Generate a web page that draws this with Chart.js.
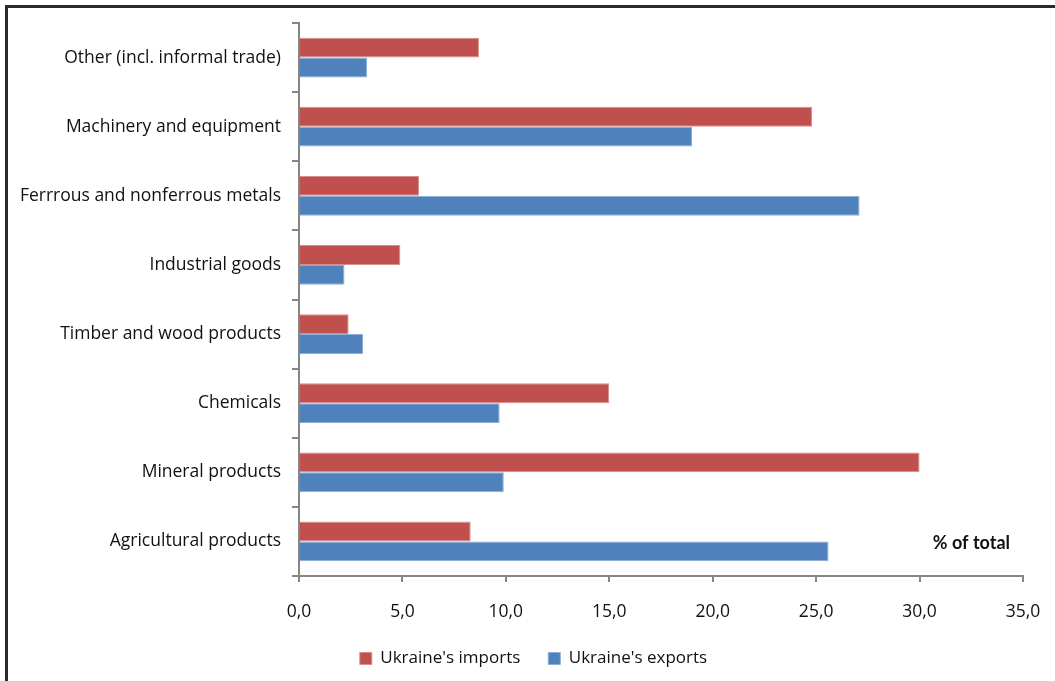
<!DOCTYPE html>
<html>
<head>
<meta charset="utf-8">
<script src="https://cdn.jsdelivr.net/npm/chart.js@4"></script>
<style>
  html, body { margin: 0; padding: 0; background: #fff; overflow: hidden; }
  #wrap { position: relative; width: 1055px; height: 681px; }
</style>
</head>
<body>
<div id="wrap"><canvas id="chart" width="1055" height="681"></canvas></div>
<script>
// Trade structure by product group, % of total
const categories = [
  'Other (incl. informal trade)',
  'Machinery and equipment',
  'Ferrrous and nonferrous metals',
  'Industrial goods',
  'Timber and wood products',
  'Chemicals',
  'Mineral products',
  'Agricultural products'
];
const importsLabel = "Ukraine's imports";
const exportsLabel = "Ukraine's exports";
const importsPct = [8.7, 24.8, 5.8, 4.9, 2.4, 15.0, 30.0, 8.3];
const exportsPct = [3.3, 19.0, 27.1, 2.2, 3.1, 9.7, 9.9, 25.6];
const unitNote = '% of total';

const FONT = '"Open Sans", Lato, sans-serif';
const AXIS_GREY = '#868686';
const LEGEND_SHIFT = 22;

// dark frame along the top and left edges, the unit note, and a nudge of the legend to the right
const framePlugin = {
  id: 'frame',
  afterLayout(chart) {
    if (chart.legend) {
      chart.legend.left += LEGEND_SHIFT;
      chart.legend.right += LEGEND_SHIFT;
    }
  },
  beforeDraw(chart) {
    const ctx = chart.ctx;
    ctx.save();
    ctx.fillStyle = '#fff';
    ctx.fillRect(0, 0, chart.width, chart.height);
    ctx.fillStyle = '#2a2a2a';
    ctx.fillRect(5, 5, chart.width, 3);
    ctx.fillRect(5, 5, 3, chart.height);
    ctx.restore();
  },
  afterDraw(chart) {
    const ctx = chart.ctx;
    const area = chart.chartArea;
    ctx.save();
    ctx.font = 'bold 18px Lato, sans-serif';
    ctx.fillStyle = '#111';
    ctx.textAlign = 'right';
    ctx.textBaseline = 'middle';
    ctx.fillText(unitNote, area.right - 13, area.bottom - 33);
    ctx.restore();
  }
};

new Chart(document.getElementById('chart'), {
  type: 'bar',
  data: {
    labels: categories,
    datasets: [
      {
        label: importsLabel,
        data: importsPct,
        backgroundColor: '#C0504D',
        borderColor: '#D68F8D',
        borderWidth: 1
      },
      {
        label: exportsLabel,
        data: exportsPct,
        backgroundColor: '#4F81BD',
        borderColor: '#8EADD6',
        borderWidth: 1
      }
    ]
  },
  options: {
    indexAxis: 'y',
    responsive: false,
    animation: false,
    devicePixelRatio: 1,
    categoryPercentage: 0.574,
    barPercentage: 1.0,
    layout: { padding: { left: 0, right: 32, top: 23, bottom: 4 } },
    scales: {
      x: {
        min: 0,
        max: 35,
        ticks: {
          stepSize: 5,
          color: '#111',
          font: { family: FONT, size: 17.5 },
          padding: 20,
          minRotation: 0,
          maxRotation: 0,
          callback: (v) => Number(v).toFixed(1).replace('.', ',')
        },
        grid: { drawOnChartArea: false, drawTicks: true, tickLength: 6, color: AXIS_GREY, lineWidth: 2 },
        border: { color: AXIS_GREY, width: 2 },
        afterFit(scale) {
          scale.height = 46;
          // the end labels fit inside the layout padding
          scale.paddingLeft = 0;
          scale.paddingRight = 0;
        }
      },
      y: {
        ticks: {
          color: '#111',
          font: { family: FONT, size: 17.5 },
          padding: 11
        },
        grid: { drawOnChartArea: false, drawTicks: true, tickLength: 7, color: AXIS_GREY, lineWidth: 2, offset: true },
        border: { color: AXIS_GREY, width: 2 },
        afterFit(scale) { scale.width = 299; }
      }
    },
    plugins: {
      legend: {
        position: 'bottom',
        labels: {
          color: '#111',
          font: { family: FONT, size: 17 },
          boxWidth: 12,
          boxHeight: 12,
          padding: 28
        }
      },
      tooltip: { enabled: false }
    }
  },
  plugins: [framePlugin]
});
</script>
</body>
</html>
